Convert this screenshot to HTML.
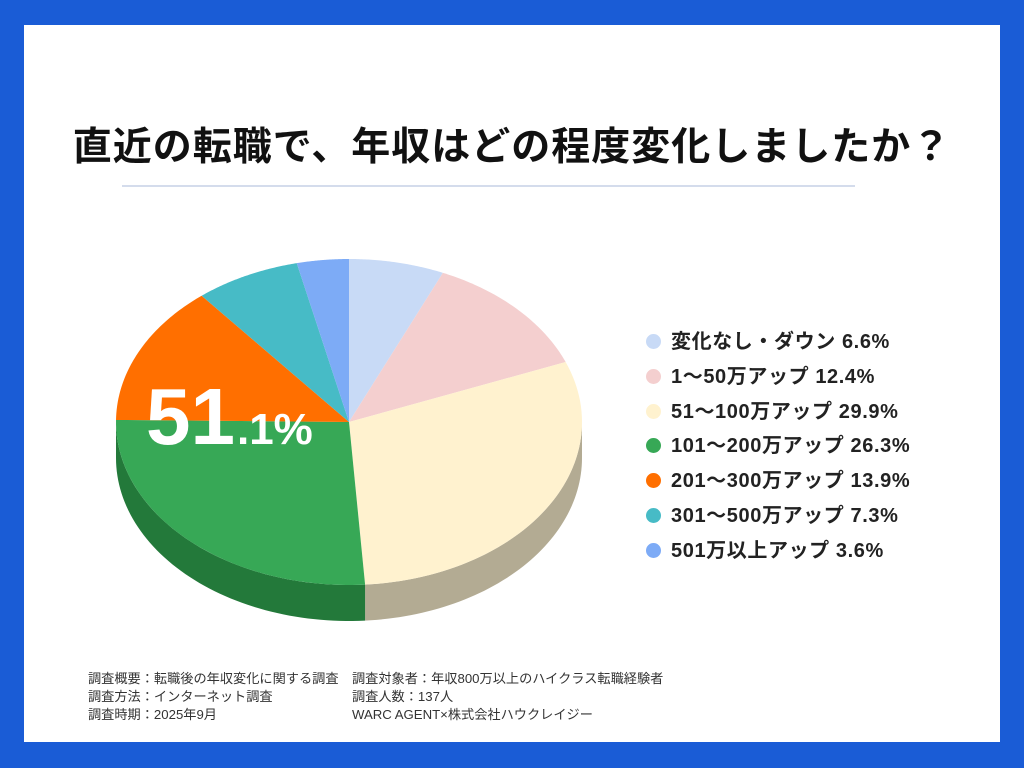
<!DOCTYPE html>
<html><head><meta charset="utf-8"><style>
body{margin:0;width:1024px;height:768px;background:#1a5cd6;font-family:"Liberation Sans","Noto Sans CJK JP",sans-serif;overflow:hidden}
#card{position:absolute;left:24px;top:25px;width:976px;height:717px;background:#fff}
#title{position:absolute;left:0;top:116px;width:1024px;text-align:center;font-size:39px;font-weight:bold;color:#111;letter-spacing:1px}
#rule{position:absolute;left:122px;top:185px;width:733px;height:2px;background:#d4dcec}
.lg{position:absolute;left:646px;font-size:20px;font-weight:bold;color:#222;white-space:nowrap;letter-spacing:0.6px}
.lg i{display:inline-block;width:15px;height:15px;border-radius:50%;vertical-align:-1px;margin-right:10px}
#notes{position:absolute;left:88px;top:670px;font-size:13.2px;color:#333;line-height:18.5px}
#notes div{position:absolute;white-space:nowrap}
</style></head><body>
<div id="card"></div>
<div id="title">直近の転職で、年収はどの程度変化しましたか？</div>
<div id="rule"></div>
<svg id="pie" width="1024" height="768" style="position:absolute;left:0;top:0"></svg>
<div id="legend"></div>
<div id="notes">
<div style="left:0;top:0">調査概要：転職後の年収変化に関する調査</div>
<div style="left:0;top:18px">調査方法：インターネット調査</div>
<div style="left:0;top:36px">調査時期：2025年9月</div>
<div style="left:264px;top:0">調査対象者：年収800万以上のハイクラス転職経験者</div>
<div style="left:264px;top:18px">調査人数：137人</div>
<div style="left:264px;top:36px">WARC AGENT×株式会社ハウクレイジー</div>
</div>
<script>
const categories=["変化なし・ダウン","1〜50万アップ","51〜100万アップ","101〜200万アップ","201〜300万アップ","301〜500万アップ","501万以上アップ"];
const values=[6.6,12.4,29.9,26.3,13.9,7.3,3.6];
const colors=["#c8daf6","#f4cfcf","#fff2cf","#37a856","#ff6f00","#47bbc6","#7dabf6"];
const sideColors=["#a8b4c8","#c4a6a6","#b3ab93","#23793a","#c45500","#36909a","#5f85c4"];
const cx=349,cy=422,rx=233,ry=163,depth=36;
const svg=document.getElementById('pie');
const NS="http://www.w3.org/2000/svg";
const total=values.reduce((a,b)=>a+b,0);
function pt(a,dy){return [cx+rx*Math.sin(a),cy-ry*Math.cos(a)+(dy||0)];}
let start=0;const spans=[];
values.forEach(v=>{const e=start+v/total*2*Math.PI;spans.push([start,e]);start=e;});
spans.forEach((s,i)=>{
  const a0=Math.max(s[0],Math.PI/2),a1=Math.min(s[1],3*Math.PI/2);
  if(a1<=a0)return;
  const top=[],bot=[];
  for(let k=0;k<=60;k++){const a=a0+(a1-a0)*k/60;top.push(pt(a));bot.push(pt(a,depth));}
  const pts=top.concat(bot.reverse()).map(p=>p.join(',')).join(' ');
  const p=document.createElementNS(NS,'polygon');
  p.setAttribute('points',pts);p.setAttribute('fill',sideColors[i]);
  
  
  svg.appendChild(p);
});
spans.forEach((s,i)=>{
  const pts=[[cx,cy]];
  for(let k=0;k<=60;k++){pts.push(pt(s[0]+(s[1]-s[0])*k/60));}
  const p=document.createElementNS(NS,'polygon');
  p.setAttribute('points',pts.map(q=>q.join(',')).join(' '));
  p.setAttribute('fill',colors[i]);
  
  
  svg.appendChild(p);
});
const t=document.createElementNS(NS,'text');
t.setAttribute('x',146);t.setAttribute('y',444);t.setAttribute('fill','#fff');
t.setAttribute('font-weight','bold');t.setAttribute('font-family','Liberation Sans, sans-serif');
t.innerHTML='<tspan font-size="80">51</tspan><tspan font-size="44" dx="2">.1%</tspan>';


svg.appendChild(t);
const lg=document.getElementById('legend');
categories.forEach((c,i)=>{
  const d=document.createElement('div');d.className='lg';
  d.style.top=(325+i*34.8)+'px';
  d.innerHTML='<i style="background:'+colors[i]+'"></i>'+c+' '+values[i]+'%';
  
  
  lg.appendChild(d);
});
</script>
</body></html>
